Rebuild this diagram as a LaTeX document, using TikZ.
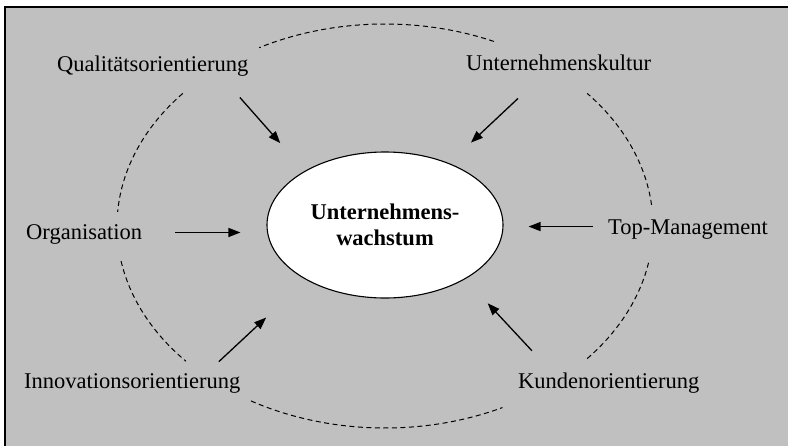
\documentclass[tikz,border=0pt]{standalone}
\usepackage{fontspec}
\setmainfont{Liberation Serif}
\usepackage{xcolor}
\usepackage{tikz}
\usetikzlibrary{shapes.geometric, arrows.meta}

\definecolor{bggray}{RGB}{192,192,192}

\begin{document}
\begin{tikzpicture}[x=1pt, y=1pt, >={Triangle[length=12pt, width=9pt]}]
        \tikzstyle{label} = [anchor=base west, inner sep=2pt, font=\fontsize{22.5}{26}\selectfont]
        \tikzstyle{core} = [ellipse, draw=black, line width=1.1pt, fill=white, minimum width=236, minimum height=146, inner sep=0pt, align=center, font=\fontsize{22.5}{26}\selectfont\bfseries]
        \tikzstyle{arr} = [->, line width=1.3pt]
        \tikzstyle{ring} = [dashed, dash pattern=on 5pt off 3.5pt, line width=1pt]

        \useasboundingbox (0,0) rectangle (788,-445);
        \clip (0,0) rectangle (788,-445);

        % frame
        \fill[bggray] (5,-7) rectangle (800,-460);
        \draw[line width=1.7pt] (5,-460) -- (5,-7) -- (800,-7);

        \node[core] (wachstum) at (385,-225) {Unternehmens-\\wachstum};

        \node[label] (qual) at (55,-71.7) {Qualitätsorientierung};
        \node[label] (kultur) at (464,-70) {Unternehmenskultur};
        \node[label] (org) at (24,-239) {Organisation};
        \node[label] (top) at (606,-234) {Top-Management};
        \node[label] (innov) at (22,-388.3) {Innovationsorientierung};
        \node[label] (kunden) at (516,-388.3) {Kundenorientierung};

        % dashed ring, broken at the labels
        \coordinate (mid) at (385,-226);
        \foreach \a/\b in {66/118, 6/41, -41/-10, -120/-64, 190/222, 139/176}
            \draw[ring] (mid) ++(\a:268 and 202) arc[start angle=\a, end angle=\b, x radius=268, y radius=202];

        \draw[arr, shorten <=25pt, shorten >=37pt] (qual.-10) -- (wachstum.146);
        \draw[arr, shorten <=38pt, shorten >=30pt] (kultur.218) -- (wachstum.44);
        \draw[arr, shorten <=31pt, shorten >=26pt] ([yshift=1.5pt]org.east) -- ([yshift=1.5pt]org.east -| wachstum.west);
        \draw[arr, shorten <=13pt, shorten >=25pt] ([yshift=2.5pt]top.west) -- ([yshift=2.5pt]top.west -| wachstum.east);
        \draw[arr, shorten <=14pt, shorten >=55pt] (innov.9) -- (wachstum.215);
        \draw[arr, shorten <=27pt, shorten >=33pt] (kunden.168) -- (wachstum.-34);
    \end{tikzpicture}
\end{document}
